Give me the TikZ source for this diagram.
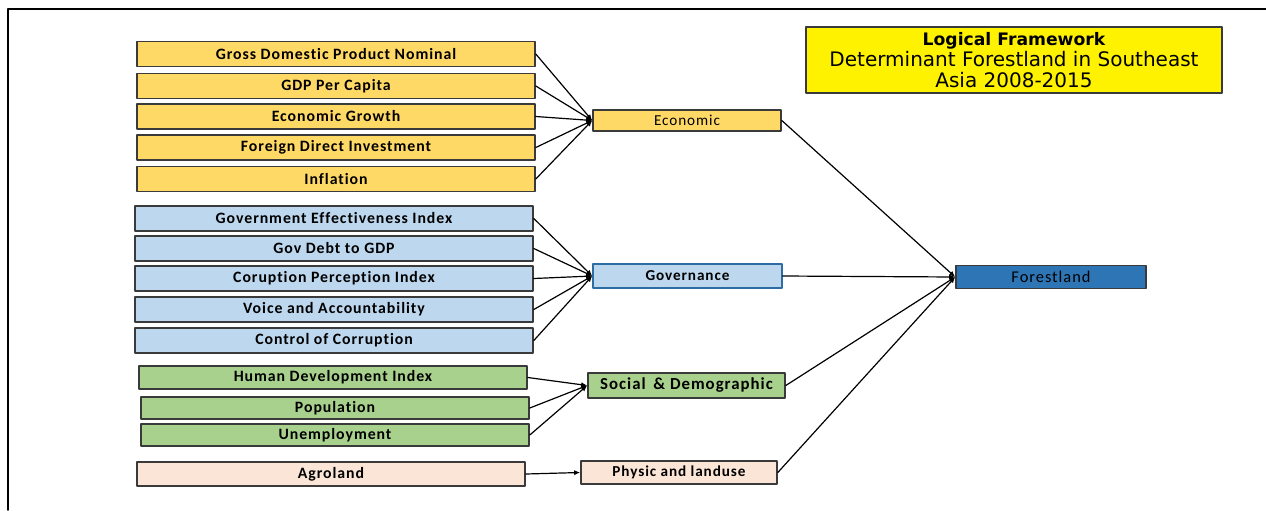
\documentclass[tikz,border=0pt]{standalone}
\usepackage{fontspec}
\setmainfont{Carlito}[LetterSpace=6,Ligatures=NoCommon]
\newfontfamily\titlefont{DejaVu Sans}
\usepackage{xcolor}
\usetikzlibrary{arrows.meta}
\definecolor{ecofill}{HTML}{FFD966}
\definecolor{govfill}{HTML}{BDD7EE}
\definecolor{socfill}{HTML}{A9D18E}
\definecolor{physfill}{HTML}{FBE5D6}
\definecolor{forestfill}{HTML}{2E75B6}
\definecolor{govedge}{HTML}{2E6DA4}
\definecolor{boxedge}{HTML}{3A3A3A}

\begin{document}
\begin{tikzpicture}[line cap=round,line join=round,x=0.5pt,y=-0.5pt,
        >={Latex[length=3pt,width=2.6pt]},
        varbox/.style={draw=boxedge,line width=0.8pt,inner sep=0pt,minimum width=199pt,minimum height=12.5pt,font=\fontsize{7.9}{8}\selectfont\bfseries},
        hubbox/.style={draw=boxedge,line width=0.8pt,inner sep=0pt,minimum height=11.5pt,font=\fontsize{7.6}{8}\selectfont\bfseries},
        link/.style={line width=0.6pt,->}]
                \useasboundingbox (0,0) rectangle (1266,510);
                \draw [line width=0.9pt] (8,510)-- (8,9)-- (1266,9);
                \node [draw=boxedge,line width=0.8pt,fill=yellow,minimum width=208pt,minimum height=33pt,inner sep=0pt,align=center,font=\titlefont\fontsize{10}{10.4}\selectfont] (title) at (1014,60) {{\bfseries\fontsize{8.6}{10.4}\selectfont Logical Framework}\\Determinant Forestland in Southeast\\Asia 2008-2015};
                \node [varbox,fill=ecofill] (gdpn) at (336,54) {Gross Domestic Product Nominal};
                \node [varbox,fill=ecofill] (gdpc) at (336,86) {GDP Per Capita};
                \node [varbox,fill=ecofill] (growth) at (336,116.5) {Economic Growth};
                \node [varbox,fill=ecofill] (fdi) at (336,147.5) {Foreign Direct Investment};
                \node [varbox,fill=ecofill] (infl) at (336,179) {Inflation};
                \node [varbox,fill=govfill] (gei) at (334,218.5) {Government Effectiveness Index};
                \node [varbox,fill=govfill] (debt) at (334,248.5) {Gov Debt to GDP};
                \node [varbox,fill=govfill] (cpi) at (334,278.5) {Coruption Perception Index};
                \node [varbox,fill=govfill] (voice) at (334,309.5) {Voice and Accountability};
                \node [varbox,fill=govfill] (corr) at (334,340.5) {Control of Corruption};
                \node [varbox,fill=socfill,minimum width=194pt,minimum height=11.5pt] (hdi) at (333,377.5) {Human Development Index};
                \node [varbox,fill=socfill,minimum width=194pt,minimum height=11pt] (pop) at (335,408) {Population};
                \node [varbox,fill=socfill,minimum width=194pt,minimum height=11pt] (unemp) at (335,435) {Unemployment};
                \node [varbox,fill=physfill,minimum width=194pt,minimum height=12pt] (agro) at (331,474) {Agroland};
                \node [hubbox,fill=ecofill,minimum width=94pt,minimum height=10.5pt,font=\fontsize{7.6}{8}\selectfont] (eco) at (687,120.5) {Economic};
                \node [hubbox,draw=govedge,fill=govfill,minimum width=94.5pt,minimum height=12pt] (gov) at (687.5,276) {Governance};
                \node [hubbox,fill=socfill,minimum width=98.5pt,minimum height=12.5pt,font=\fontsize{8.4}{9}\selectfont\bfseries] (soc) at (686.5,385.5) {Social \,\& Demographic};
                \node [hubbox,fill=physfill,minimum width=98pt,minimum height=11.5pt] (phys) at (679,472.5) {Physic and landuse};
                \node [hubbox,fill=forestfill,minimum width=95pt,minimum height=11.5pt,font=\fontsize{8.2}{8}\selectfont] (forest) at (1051,277) {Forestland};
                \draw [link] (gdpn.east)-- (eco.west);
                \draw [link] (gdpc.east)-- (eco.west);
                \draw [link] (growth.east)-- (eco.west);
                \draw [link] (fdi.east)-- (eco.west);
                \draw [link] (infl.east)-- (eco.west);
                \draw [link] (gei.east)-- (gov.west);
                \draw [link] (debt.east)-- (gov.west);
                \draw [link] (cpi.east)-- (gov.west);
                \draw [link] (voice.east)-- (gov.west);
                \draw [link] (corr.east)-- (gov.west);
                \draw [link] (hdi.east)-- (soc.west);
                \draw [link] (pop.east)-- (soc.west);
                \draw [link] (unemp.east)-- (soc.west);
                \draw [link] (agro.east)-- (phys.west);
                \draw [link] (eco.east)-- (forest.west);
                \draw [link] (gov.east)-- (forest.west);
                \draw [link] (soc.east)-- (forest.west);
                \draw [link] (phys.east)-- (forest.west);
\end{tikzpicture}
\end{document}
